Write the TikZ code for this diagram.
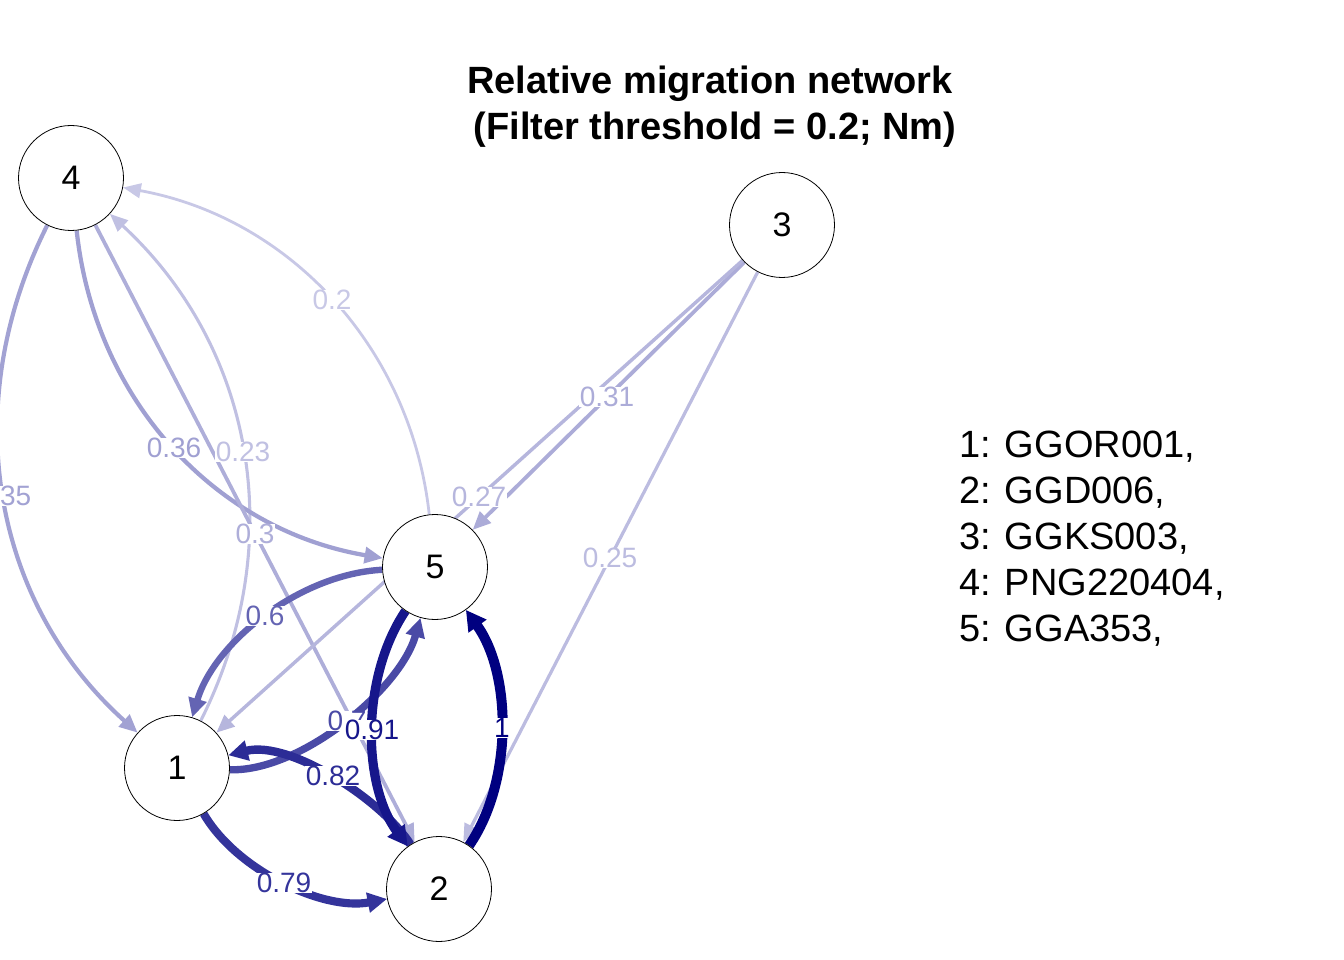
\documentclass[tikz,border=0pt]{standalone}
\usepackage{fontspec}
\setmainfont{Liberation Sans}
\usetikzlibrary{arrows.meta,backgrounds}
\definecolor{lav}{RGB}{200,200,230}
\definecolor{deep}{RGB}{0,0,128}

\begin{document}
\begin{tikzpicture}[x=1pt, y=-1pt,
		pop/.style={circle, draw=black, line width=0.8pt, fill=white, minimum size=105pt, inner sep=0pt, font=\fontsize{34}{34}\selectfont},
		mig/.style={draw=deep!#1!lav, line width=2.8pt+0.072pt*#1, -{Triangle[length=17pt 0.3, width=12pt 0.9]}},
		nm/.style={fill=white, inner sep=0.5pt, text=deep!#1!lav, font=\fontsize{28}{28}\selectfont},
		legend/.style={anchor=base west, inner sep=0pt, font=\fontsize{38}{38}\selectfont},
		headline/.style={anchor=base, inner sep=0pt, font=\bfseries\fontsize{38}{38}\selectfont}]
		%%%%% START %%%%%
		\useasboundingbox (0,0) rectangle (1344,960);
		
		\node[headline] (title1) at (710,94) {Relative migration network};
		\node[headline] (title2) at (715,140) {(Filter threshold = 0.2; Nm)};
		
		\node[pop] (pop1) at (177,768) {1};
		\node[pop] (pop2) at (439,889) {2};
		\node[pop] (pop3) at (782,225) {3};
		\node[pop] (pop4) at (71,178) {4};
		\node[pop] (pop5) at (435,567) {5};
		
		\begin{scope}[on background layer]
			% weak links
			\draw[mig=19] (pop4) .. controls (-43,405) and (-8,602) .. (pop1);
			\draw[mig=4] (pop1) .. controls (290,543) and (254,347) .. (pop4);
			\draw[mig=20] (pop4) .. controls (95,401) and (216,530) .. (pop5);
			\draw[mig=0] (pop5) .. controls (411,348) and (290,218) .. (pop4);
			\draw[mig=13] (pop4) -- (pop2);
			\draw[mig=14] (pop3) -- (pop5);
			\draw[mig=9] (pop3) -- (pop1);
			\draw[mig=6] (pop3) -- (pop2);
			
			% strong links
			\draw[mig=63] (pop1) .. controls (300,772) and (400,690) .. (pop5);
			\draw[mig=50] (pop5) .. controls (301,574) and (215,641) .. (pop1);
			\draw[mig=74] (pop1) .. controls (237,871) and (324,911) .. (pop2);
			\draw[mig=78] (pop2) .. controls (382,800) and (290,740) .. (pop1);
			\draw[mig=89] (pop5) .. controls (361,677) and (362,784) .. (pop2);
			\draw[mig=100] (pop2) .. controls (513,782) and (512,674) .. (pop5);
			
			\node[nm=19] (nm41) at (4,496) {0.35};
			\node[nm=4] (nm14) at (243,452) {0.23};
			\node[nm=20] (nm45) at (174,448) {0.36};
			\node[nm=0] (nm54) at (332,300) {0.2};
			\node[nm=13] (nm42) at (255,534) {0.3};
			\node[nm=14] (nm35) at (607,397) {0.31};
			\node[nm=9] (nm31) at (479,497) {0.27};
			\node[nm=6] (nm32) at (610,558) {0.25};
			\node[nm=63] (nm15) at (347,721) {0.7};
			\node[nm=50] (nm51) at (265,616) {0.6};
			\node[nm=74] (nm12) at (284,883) {0.79};
			\node[nm=78] (nm21) at (333,776) {0.82};
			\node[nm=89] (nm52) at (372,730) {0.91};
			\node[nm=100] (nm25) at (502,728) {1};
		\end{scope}
		
		\node[legend] (key1) at (959,457) {1: GGOR001,};
		\node[legend] (key2) at (959,503) {2: GGD006,};
		\node[legend] (key3) at (959,549) {3: GGKS003,};
		\node[legend] (key4) at (959,595) {4: PNG220404,};
		\node[legend] (key5) at (959,641) {5: GGA353,};
		
		%%%%% END %%%%%
\end{tikzpicture}
\end{document}
